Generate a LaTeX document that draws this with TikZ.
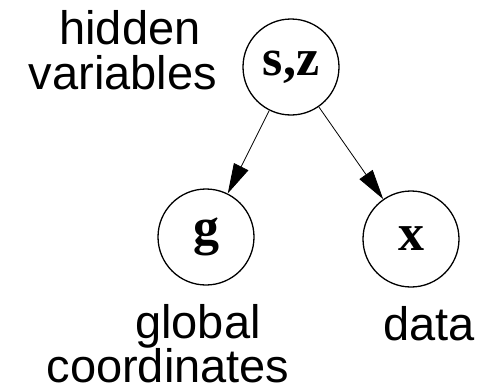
\documentclass[tikz,border=0pt]{standalone}
\usepackage{fontspec}
\setmainfont{Liberation Serif}
\setsansfont{Liberation Sans}
\usetikzlibrary{arrows.meta}
\begin{document}
\begin{tikzpicture}[x=1pt,y=-1pt,
  var/.style={draw,circle,line width=1.3pt,minimum size=96pt,inner sep=0pt,
    font=\fontsize{52}{56}\selectfont\bfseries},
  lbl/.style={anchor=base,inner sep=0pt,font=\sffamily\fontsize{47}{52}\selectfont},
  arr/.style={line width=0.8pt,-{Triangle[length=30pt,width=16pt]}}]
\useasboundingbox (0,0) rectangle (487,388);
\node[var] (sz) at (291,67) {s,z};
\node[var] (g) at (206,237) {g};
\node[var] (x) at (411,239) {x};
\node[lbl] (l1) at (130,44) {hidden};
\node[lbl] (l2) at (123,89) {variables};
\node[lbl] (l3) at (198,338) {global};
\node[lbl] (l4) at (168,382) {coordinates};
\node[lbl] (l5) at (429,340) {data};
\draw[arr] (sz) -- (g);
\draw[arr] (sz) -- (x);
\end{tikzpicture}
\end{document}
